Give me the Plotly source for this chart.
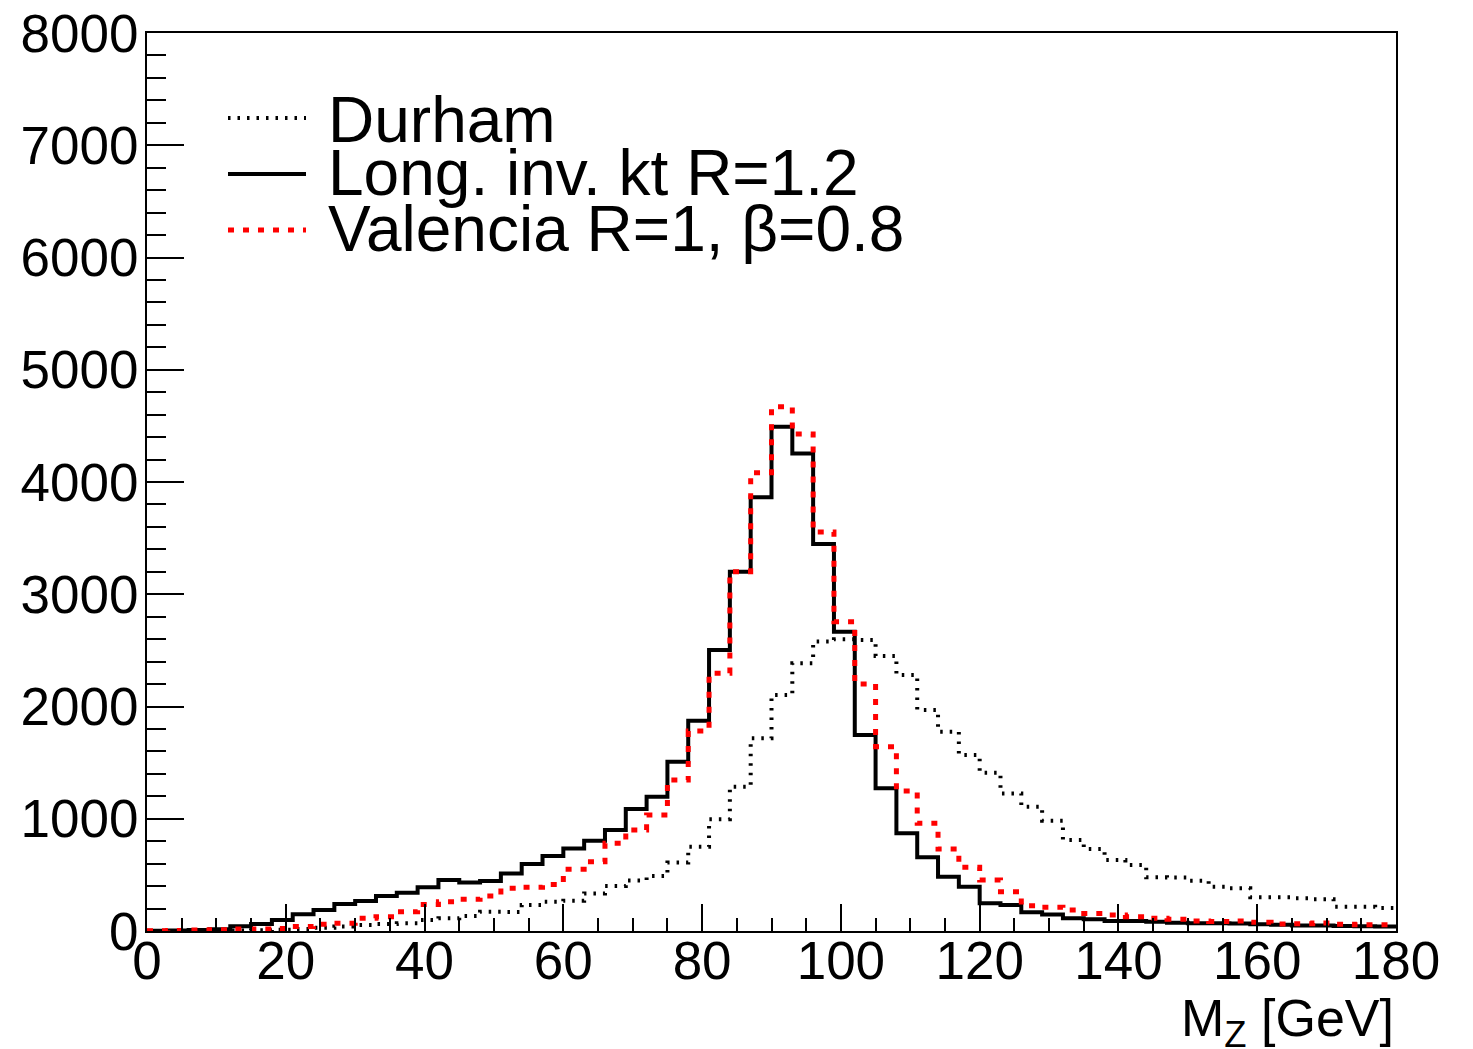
import plotly.graph_objects as go

# 3 GeV bins from 0 to 180
bin_width = 3
n_bins = 60
edges = [i * bin_width for i in range(n_bins + 1)]

durham = [0, 0, 1, 2, 4, 6, 12, 18, 28, 40,
          53, 62, 68, 98, 113, 133, 172, 170, 232, 261,
          270, 335, 400, 450, 490, 610, 750, 995, 1286, 1717,
          2102, 2385, 2578, 2600, 2592, 2450, 2280, 1969, 1776, 1568,
          1410, 1226, 1108, 983, 811, 730, 632, 588, 478, 476,
          448, 395, 380, 300, 300, 291, 282, 217, 217, 205]

longkt = [3, 4, 8, 15, 42, 62, 98, 150, 187, 240,
          267, 312, 341, 389, 454, 433, 445, 513, 597, 668,
          735, 803, 900, 1087, 1197, 1508, 1874, 2503, 3201, 3864,
          4493, 4255, 3448, 2667, 1746, 1271, 870, 656, 484, 395,
          247, 232, 166, 148, 113, 104, 89, 89, 83, 74,
          70, 68, 66, 60, 55, 50, 48, 45, 42, 40]

valencia = [3, 4, 8, 12, 18, 18, 22, 40, 60, 70,
            113, 128, 172, 237, 261, 282, 312, 380, 390, 415,
            550, 618, 781, 900, 1033, 1345, 1782, 2296, 3201, 4083,
            4671, 4428, 3555, 2756, 2200, 1642, 1247, 959, 730, 567,
            454, 350, 226, 211, 187, 157, 143, 128, 113, 104,
            88, 85, 90, 78, 62, 65, 72, 60, 55, 55]

labels = ["Durham", "Long. inv. kt R=1.2", "Valencia R=1, β=0.8"]
x_ticks = [0, 20, 40, 60, 80, 100, 120, 140, 160, 180]
y_ticks = [0, 1000, 2000, 3000, 4000, 5000, 6000, 7000, 8000]

styles = [
    dict(color="black", width=4, dash="2.5px,7px"),
    dict(color="black", width=4, dash="solid"),
    dict(color="#ff0000", width=5, dash="6px,9px"),
]

FONT = "Liberation Sans, Arial, Helvetica, sans-serif"

fig = go.Figure()
for vals, lab, st in zip([durham, longkt, valencia], labels, styles):
    fig.add_trace(go.Scatter(
        x=edges, y=vals + [vals[-1]], mode="lines", name=lab,
        line=dict(shape="hv", **st), showlegend=False, hoverinfo="skip"))

# page has an 8px body margin: compensate so the frame lands where the reference has it
OFF = 8
W, H = 1473 - OFF, 1049 - OFF
L, R, T, B = 147 - OFF, 1396 - OFF, 33 - OFF, 931 - OFF


def px(xp):
    return (xp - OFF - L) / (R - L)


def py(yp):
    return (B - (yp - OFF)) / (B - T)


leg_line_y = [118, 174, 230]
leg_text_y = [120, 173, 229]
for lab, st, ly, ty in zip(labels, styles, leg_line_y, leg_text_y):
    fig.add_shape(type="line", xref="paper", yref="paper",
                  x0=px(228), x1=px(306), y0=py(ly), y1=py(ly),
                  line=dict(color=st["color"], width=st["width"], dash=st["dash"]))
    fig.add_annotation(text=lab, xref="paper", yref="paper",
                       x=px(326), y=py(ty), xanchor="left", yanchor="middle",
                       showarrow=False, font=dict(family=FONT, size=64, color="black"))

fig.add_annotation(text="M<sub>Z</sub> [GeV]", xref="paper", yref="paper",
                   x=1.0, y=py(1022), xanchor="right", yanchor="middle",
                   showarrow=False, font=dict(family=FONT, size=52, color="black"))

axis_common = dict(showline=True, linecolor="black", linewidth=2, mirror=True,
                   ticks="inside", tickcolor="black", tickwidth=2,
                   showgrid=False, zeroline=False, ticklabeloverflow="allow",
                   automargin=False,
                   tickfont=dict(family=FONT, size=53, color="black"))

fig.update_xaxes(range=[0, 180], tickvals=x_ticks, ticktext=[str(v) for v in x_ticks],
                 ticklen=27, ticklabelstandoff=-18,
                 minor=dict(dtick=5, tick0=0, ticks="inside", ticklen=13,
                            tickcolor="black", tickwidth=2),
                 **axis_common)
fig.update_yaxes(range=[0, 8000], tickvals=y_ticks, ticktext=[str(v) for v in y_ticks],
                 ticklen=37, ticklabelstandoff=-4,
                 minor=dict(dtick=200, tick0=0, ticks="inside", ticklen=19,
                            tickcolor="black", tickwidth=2),
                 **axis_common)

fig.update_layout(width=W, height=H,
                  margin=dict(l=L, r=W - R, t=T, b=H - B, pad=0, autoexpand=False),
                  paper_bgcolor="white", plot_bgcolor="white",
                  showlegend=False)

fig.write_html("out.html")
